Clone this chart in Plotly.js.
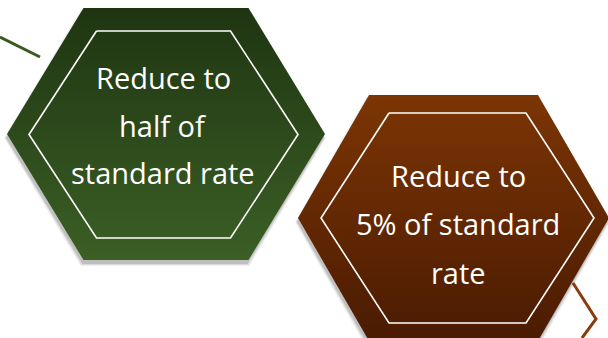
<!DOCTYPE html>
<html><head><meta charset="utf-8">
<script src="https://cdn.plot.ly/plotly-3.0.1.min.js"></script>
<style>html,body{margin:0;padding:0;background:#fff}#c{width:608px;height:338px}</style>
</head><body><div id="c"></div>
<script>
// Hexagon definitions: [cx, cy, halfWidth, halfTopWidth, halfHeight]
const hexNames = ['half', 'five'];
const outerHex = [[166, 134, 159, 82.5, 126], [453.5, 218, 155.5, 84.5, 123]];
const innerHex = [[163.5, 134.5, 134.5, 67, 103.5], [457.5, 218, 136.5, 68.5, 105]];
const topColors = ['#1f3512', '#7c3504'];
const bottomColors = ['#3b5f25', '#4a1b02'];
const labels = [['Reduce to', 'half of', 'standard rate'], ['Reduce to', '5% of standard', 'rate']];
const labelX = [163, 458];
const labelY = [[77, 125, 172], [175, 223, 272]];
// connector lines
const lineGreenX = [0, 40], lineGreenY = [37, 57];
const lineBrownX = [573, 596, 582], lineBrownY = [283, 319, 338];

function hex(h, dx, dy, grow) {
  const [cx, cy, hw, ht, hh] = h;
  const g = grow || 0;
  const xs = [cx - ht - g, cx + ht + g, cx + hw + g, cx + ht + g, cx - ht - g, cx - hw - g, cx - ht - g];
  const ys = [cy - hh - g, cy - hh - g, cy, cy + hh + g, cy + hh + g, cy, cy - hh - g];
  return {x: xs.map(v => v + (dx || 0)), y: ys.map(v => v + (dy || 0))};
}

const traces = [];
traces.push({x: lineGreenX, y: lineGreenY, mode: 'lines', line: {color: '#3a5a22', width: 3}, hoverinfo: 'skip'});
traces.push({x: lineBrownX, y: lineBrownY, mode: 'lines', line: {color: '#8a3c0a', width: 3}, hoverinfo: 'skip'});
outerHex.forEach((h, i) => {
  // soft shadow layers
  [[2, 0.06], [1, 0.09], [0, 0.12]].forEach(([g, op]) => {
    const s = hex(h, -1, 4, g);
    traces.push({x: s.x, y: s.y, mode: 'lines', fill: 'toself', fillcolor: 'rgba(0,0,0,' + op + ')', line: {width: 0}, hoverinfo: 'skip'});
  });
  const o = hex(h);
  traces.push({x: o.x, y: o.y, mode: 'lines', fill: 'toself', line: {width: 0},
    fillgradient: {type: 'vertical', colorscale: [[0, bottomColors[i]], [1, topColors[i]]]}, hoverinfo: 'skip', name: hexNames[i]});
  const n = hex(innerHex[i]);
  traces.push({x: n.x, y: n.y, mode: 'lines', line: {color: '#ffffff', width: 1.6}, hoverinfo: 'skip'});
});

const annotations = [];
labels.forEach((ls, i) => ls.forEach((t, j) => annotations.push({
  x: labelX[i], y: labelY[i][j], xref: 'x', yref: 'y', text: t, showarrow: false,
  font: {family: 'Open Sans, Noto Sans, sans-serif', size: 29, color: '#ffffff'}
})));

Plotly.newPlot('c', traces, {
  width: 608, height: 338, margin: {l: 0, r: 0, t: 0, b: 0},
  paper_bgcolor: '#ffffff', plot_bgcolor: '#ffffff', showlegend: false,
  xaxis: {range: [0, 608], visible: false, fixedrange: true},
  yaxis: {range: [338, 0], visible: false, fixedrange: true},
  annotations: annotations
}, {staticPlot: true});
</script></body></html>
